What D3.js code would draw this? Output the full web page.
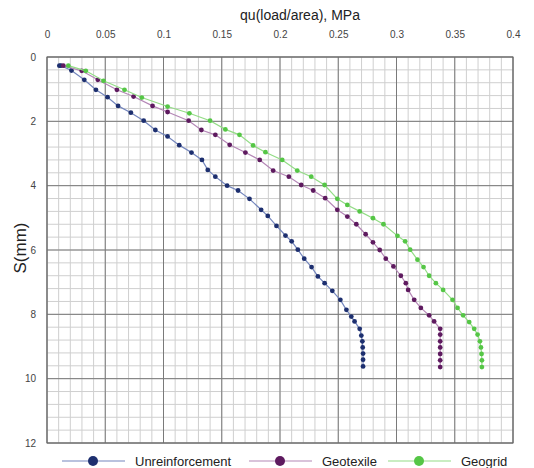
<!DOCTYPE html>
<meta charset="utf-8" />
<style>
  body { margin: 0; background: #fff; }
  svg { display: block; font-family: "Liberation Sans", Arial, sans-serif; }
</style>
<script src="https://d3js.org/d3.v7.min.js"></script>
<svg id="chart" width="534" height="468"></svg>
<script>
  // series: [qu (MPa), S (mm)]
  const unreinforcement = [
    [0.0106,0.27],[0.012,0.27],[0.021,0.42],[0.032,0.71],[0.042,1.02],[0.052,1.25],[0.061,1.52],
    [0.072,1.73],[0.083,1.98],[0.093,2.27],[0.1035,2.47],[0.1135,2.74],[0.124,2.97],[0.133,3.2],
    [0.138,3.51],[0.1445,3.72],[0.1546,4.0],[0.164,4.15],[0.1738,4.41],[0.1838,4.75],[0.1895,4.94],
    [0.197,5.25],[0.2047,5.55],[0.210,5.73],[0.2153,5.99],[0.2208,6.27],[0.2271,6.53],[0.2325,6.82],
    [0.2383,7.03],[0.2449,7.27],[0.2518,7.55],[0.257,7.86],[0.2612,8.07],[0.264,8.22],[0.2684,8.45],
    [0.2698,8.66],[0.2707,8.84],[0.271,9.03],[0.2713,9.22],[0.2713,9.41],[0.2713,9.62]
  ];
  const geotexile = [
    [0.014,0.27],[0.0298,0.43],[0.0436,0.71],[0.06,1.02],[0.0743,1.23],[0.0906,1.52],[0.1035,1.71],
    [0.1216,1.98],[0.1325,2.27],[0.1445,2.42],[0.1568,2.73],[0.1703,2.97],[0.1826,3.2],[0.1941,3.53],
    [0.2076,3.72],[0.2182,3.98],[0.2285,4.15],[0.2388,4.39],[0.2492,4.75],[0.2578,4.96],[0.2655,5.2],
    [0.2735,5.51],[0.2798,5.76],[0.2856,6.0],[0.2908,6.27],[0.2974,6.51],[0.3037,6.8],[0.308,7.03],
    [0.31,7.24],[0.3152,7.55],[0.3209,7.8],[0.328,8.03],[0.3323,8.22],[0.3375,8.45],[0.3375,8.63],
    [0.3375,8.84],[0.3375,9.03],[0.3375,9.23],[0.3375,9.43],[0.3375,9.64]
  ];
  const geogrid = [
    [0.0183,0.27],[0.0333,0.43],[0.0485,0.74],[0.0665,1.02],[0.0814,1.26],[0.1035,1.54],[0.1222,1.75],
    [0.14,1.98],[0.1531,2.25],[0.1652,2.42],[0.1769,2.75],[0.1875,2.96],[0.2019,3.2],[0.2148,3.53],
    [0.2268,3.72],[0.2383,3.98],[0.2492,4.41],[0.2578,4.6],[0.2684,4.8],[0.2798,5.01],[0.2888,5.2],
    [0.3008,5.56],[0.3074,5.73],[0.3117,5.99],[0.318,6.3],[0.3232,6.53],[0.328,6.8],[0.3338,7.03],
    [0.34,7.24],[0.3481,7.55],[0.3524,7.8],[0.3572,8.03],[0.3624,8.24],[0.3667,8.45],[0.3696,8.63],
    [0.3716,8.84],[0.3725,9.03],[0.373,9.23],[0.3733,9.43],[0.3733,9.64]
  ];
  const seriesNames = ['Unreinforcement', 'Geotexile', 'Geogrid'];
  const xTicks = [0, 0.05, 0.1, 0.15, 0.2, 0.25, 0.3, 0.35, 0.4];
  const yTicks = [0, 2, 4, 6, 8, 10, 12];

  const svg = d3.select('#chart');
  const plotL = 47, plotR = 513, plotT = 57, plotB = 443;

  const x = d3.scaleLinear().domain([0, 0.4]).range([plotL, plotR]);
  const y = d3.scaleLinear().domain([0, 12]).range([plotT, plotB]);

  // minor grid
  const grid = svg.append('g');
  grid.selectAll('.vminor').data(d3.range(0, 0.4001, 0.01)).enter().append('line')
    .attr('x1', d => x(d)).attr('x2', d => x(d)).attr('y1', plotT).attr('y2', plotB)
    .attr('stroke', '#cfcfcf').attr('stroke-width', 1);
  grid.selectAll('.hminor').data(d3.range(0, 12.001, 0.4)).enter().append('line')
    .attr('y1', d => y(d)).attr('y2', d => y(d)).attr('x1', plotL).attr('x2', plotR)
    .attr('stroke', '#cfcfcf').attr('stroke-width', 1);
  // major grid
  grid.selectAll('.vmajor').data(xTicks).enter().append('line')
    .attr('x1', d => x(d)).attr('x2', d => x(d)).attr('y1', plotT).attr('y2', plotB)
    .attr('stroke', '#7a7a7a').attr('stroke-width', 1);
  grid.selectAll('.hmajor').data(yTicks).enter().append('line')
    .attr('y1', d => y(d)).attr('y2', d => y(d)).attr('x1', plotL).attr('x2', plotR)
    .attr('stroke', '#7a7a7a').attr('stroke-width', 1);
  svg.append('rect').attr('x', plotL).attr('y', plotT)
    .attr('width', plotR - plotL).attr('height', plotB - plotT)
    .attr('fill', 'none').attr('stroke', '#666');

  // axes (labels only)
  const xAxis = svg.append('g').attr('transform', `translate(0,${plotT - 16})`)
    .call(d3.axisTop(x).tickValues(xTicks).tickSize(0).tickFormat(d3.format('~g')));
  const yAxis = svg.append('g').attr('transform', `translate(${plotL - 8},0)`)
    .call(d3.axisLeft(y).tickValues(yTicks).tickSize(0));
  [xAxis, yAxis].forEach(a => {
    a.select('.domain').remove();
    a.selectAll('text').attr('fill', '#444').style('font-size', '10px')
      .style('font-family', '"Liberation Sans", Arial, sans-serif');
  });

  svg.append('text').attr('x', 300).attr('y', 20).attr('text-anchor', 'middle')
    .style('font-size', '14px').attr('fill', '#222').text('qu(load/area), MPa');
  svg.append('text').attr('transform', 'translate(26,248) rotate(-90)')
    .attr('text-anchor', 'middle').style('font-size', '17px').attr('fill', '#222').text('S(mm)');

  const dotColor = ['#1d2f6f', '#5e1a5f', '#55c646'];
  const lineColor = ['#7486bd', '#b487b6', '#93dc86'];
  const data = [unreinforcement, geotexile, geogrid];

  const line = d3.line().x(d => x(d[0])).y(d => y(d[1]));
  data.forEach((s, i) => {
    const g = svg.append('g');
    g.append('path').datum(s).attr('d', line).attr('fill', 'none')
      .attr('stroke', lineColor[i]).attr('stroke-width', 1.2);
    g.selectAll('circle').data(s).enter().append('circle')
      .attr('cx', d => x(d[0])).attr('cy', d => y(d[1])).attr('r', 2.4)
      .attr('fill', dotColor[i]);
  });

  // legend
  const legX = [62, 249, 388];
  const legend = svg.append('g').attr('transform', 'translate(0,461)');
  seriesNames.forEach((name, i) => {
    const g = legend.append('g').attr('transform', `translate(${legX[i]},0)`);
    g.append('line').attr('x1', 0).attr('x2', 63).attr('stroke', lineColor[i]).attr('stroke-width', 1.2);
    g.append('circle').attr('cx', 31).attr('r', 5).attr('fill', dotColor[i]);
    g.append('text').attr('x', 73).attr('y', 4.5).style('font-size', '13px')
      .attr('fill', '#222').text(name);
  });
</script>
